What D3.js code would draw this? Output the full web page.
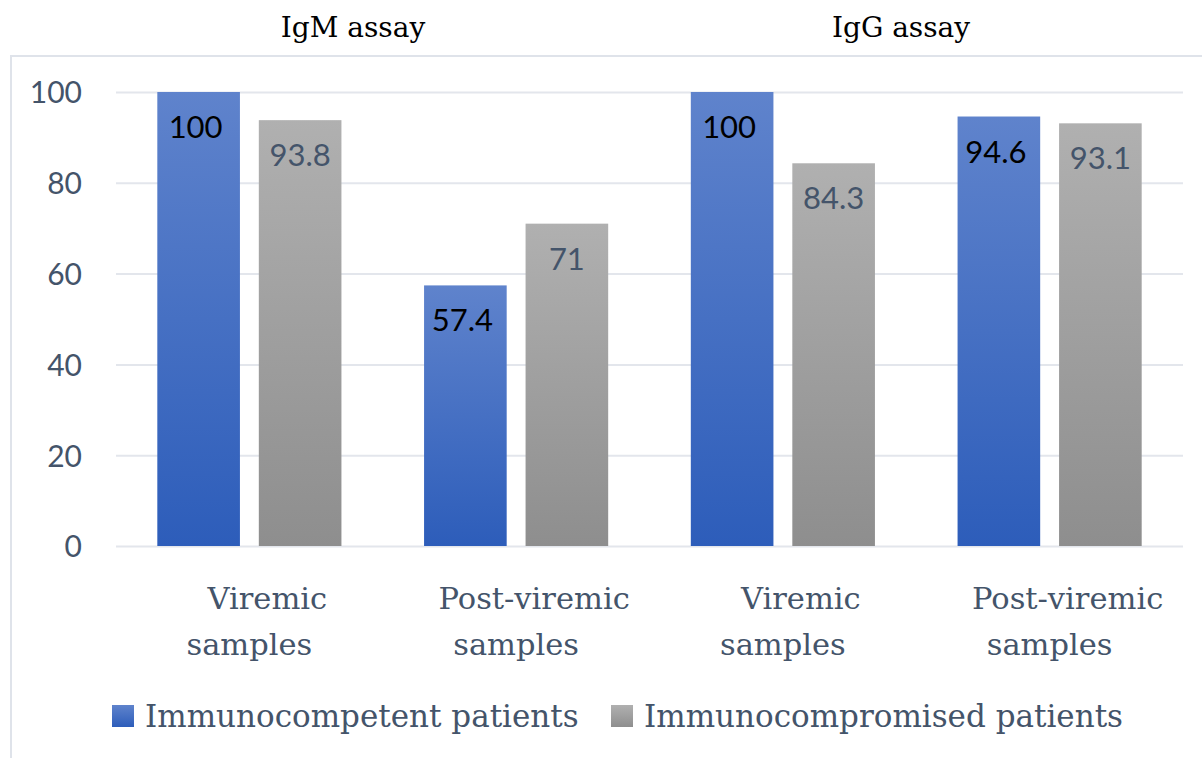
<!DOCTYPE html>
<html><head><meta charset="utf-8">
<script src="https://cdn.jsdelivr.net/npm/d3@7/dist/d3.min.js"></script>
<style>html,body{margin:0;padding:0;background:#fff;overflow:hidden}</style>
</head><body><svg id="c" width="1202" height="758"></svg>
<script>
const assays = ["IgM assay", "IgG assay"];
const categories = [["Viremic", "samples"], ["Post-viremic", "samples"], ["Viremic", "samples"], ["Post-viremic", "samples"]];
const seriesNames = ["Immunocompetent patients", "Immunocompromised patients"];
const immunocompetent = [100, 57.4, 100, 94.6];
const immunocompromised = [93.8, 71, 84.3, 93.1];
const yTicks = [0, 20, 40, 60, 80, 100];

const svg = d3.select("#c");
const defs = svg.append("defs");
function grad(id, top, bottom) {
  const g = defs.append("linearGradient").attr("id", id).attr("x1", 0).attr("y1", 0).attr("x2", 0).attr("y2", 1);
  g.append("stop").attr("offset", "0%").attr("stop-color", top);
  g.append("stop").attr("offset", "100%").attr("stop-color", bottom);
}
grad("gBlue", "#5f83cc", "#2d5dba");
grad("gGray", "#b0b0b0", "#8e8e8e");
const fills = ["url(#gBlue)", "url(#gGray)"];
const labelColors = ["#000000", "#44546a"];

// border
svg.append("line").attr("x1", 10).attr("x2", 1202).attr("y1", 56).attr("y2", 56).attr("stroke", "#dfe3ea").attr("stroke-width", 2);
svg.append("line").attr("x1", 11).attr("x2", 11).attr("y1", 56).attr("y2", 758).attr("stroke", "#dfe3ea").attr("stroke-width", 2);

const y = d3.scaleLinear().domain([0, 100]).range([546, 92]);
const x0 = d3.scaleBand().domain(d3.range(categories.length)).range([116, 1183]).padding(0);
const x1 = d3.scaleBand().domain([0, 1]).range([0, x0.bandwidth()]).paddingInner(0.186).paddingOuter(0.407);

// grid
const yAxis = d3.axisLeft(y).tickValues(yTicks).tickSize(-(1183 - 116)).tickPadding(34);
const ga = svg.append("g").attr("transform", "translate(116,0)").call(yAxis);
ga.select(".domain").remove();
ga.selectAll(".tick line").attr("stroke", "#e3e6ec").attr("stroke-width", 2);
ga.selectAll(".tick text").attr("fill", "#44546a").attr("font-family", "Lato, 'Open Sans', sans-serif").attr("font-size", 30).attr("dy", "0.36em");

const data = [immunocompetent, immunocompromised];
const g = svg.append("g");
data.forEach((vals, s) => {
  vals.forEach((v, i) => {
    const bx = x0(i) + x1(s);
    g.append("rect").attr("x", bx).attr("y", y(v)).attr("width", x1.bandwidth()).attr("height", y(0) - y(v)).attr("fill", fills[s]);
    g.append("text").attr("x", bx + x1.bandwidth() / 2 - (s === 0 ? 3 : 0)).attr("y", y(v) + 46)
      .attr("text-anchor", "middle").attr("fill", labelColors[s])
      .attr("font-family", "Lato, 'Open Sans', sans-serif").attr("font-size", 31).text(v);
  });
});

// category labels
categories.forEach((lines, i) => {
  const cx = x0(i) + x0.bandwidth() / 2;
  const t = svg.append("text").attr("fill", "#44546a").attr("font-family", "'DejaVu Serif', serif").attr("font-size", 30.5).attr("text-anchor", "middle");
  t.append("tspan").attr("x", cx + 18).attr("y", 609).text(lines[0]);
  t.append("tspan").attr("x", cx).attr("y", 655).text(lines[1]);
});

// titles
const titleX = [353, 901];
assays.forEach((a, i) => {
  svg.append("text").attr("x", titleX[i]).attr("y", 37).attr("text-anchor", "middle").attr("fill", "#000")
    .attr("font-family", "'DejaVu Serif', serif").attr("font-size", 28).text(a);
});

// legend
const legX = [112, 611];
seriesNames.forEach((n, i) => {
  svg.append("rect").attr("x", legX[i]).attr("y", 705).attr("width", 22).attr("height", 22).attr("fill", fills[i]);
  svg.append("text").attr("x", legX[i] + 33).attr("y", 727).attr("fill", "#44546a")
    .attr("font-family", "'DejaVu Serif', serif").attr("font-size", 31).text(n);
});
</script></body></html>
